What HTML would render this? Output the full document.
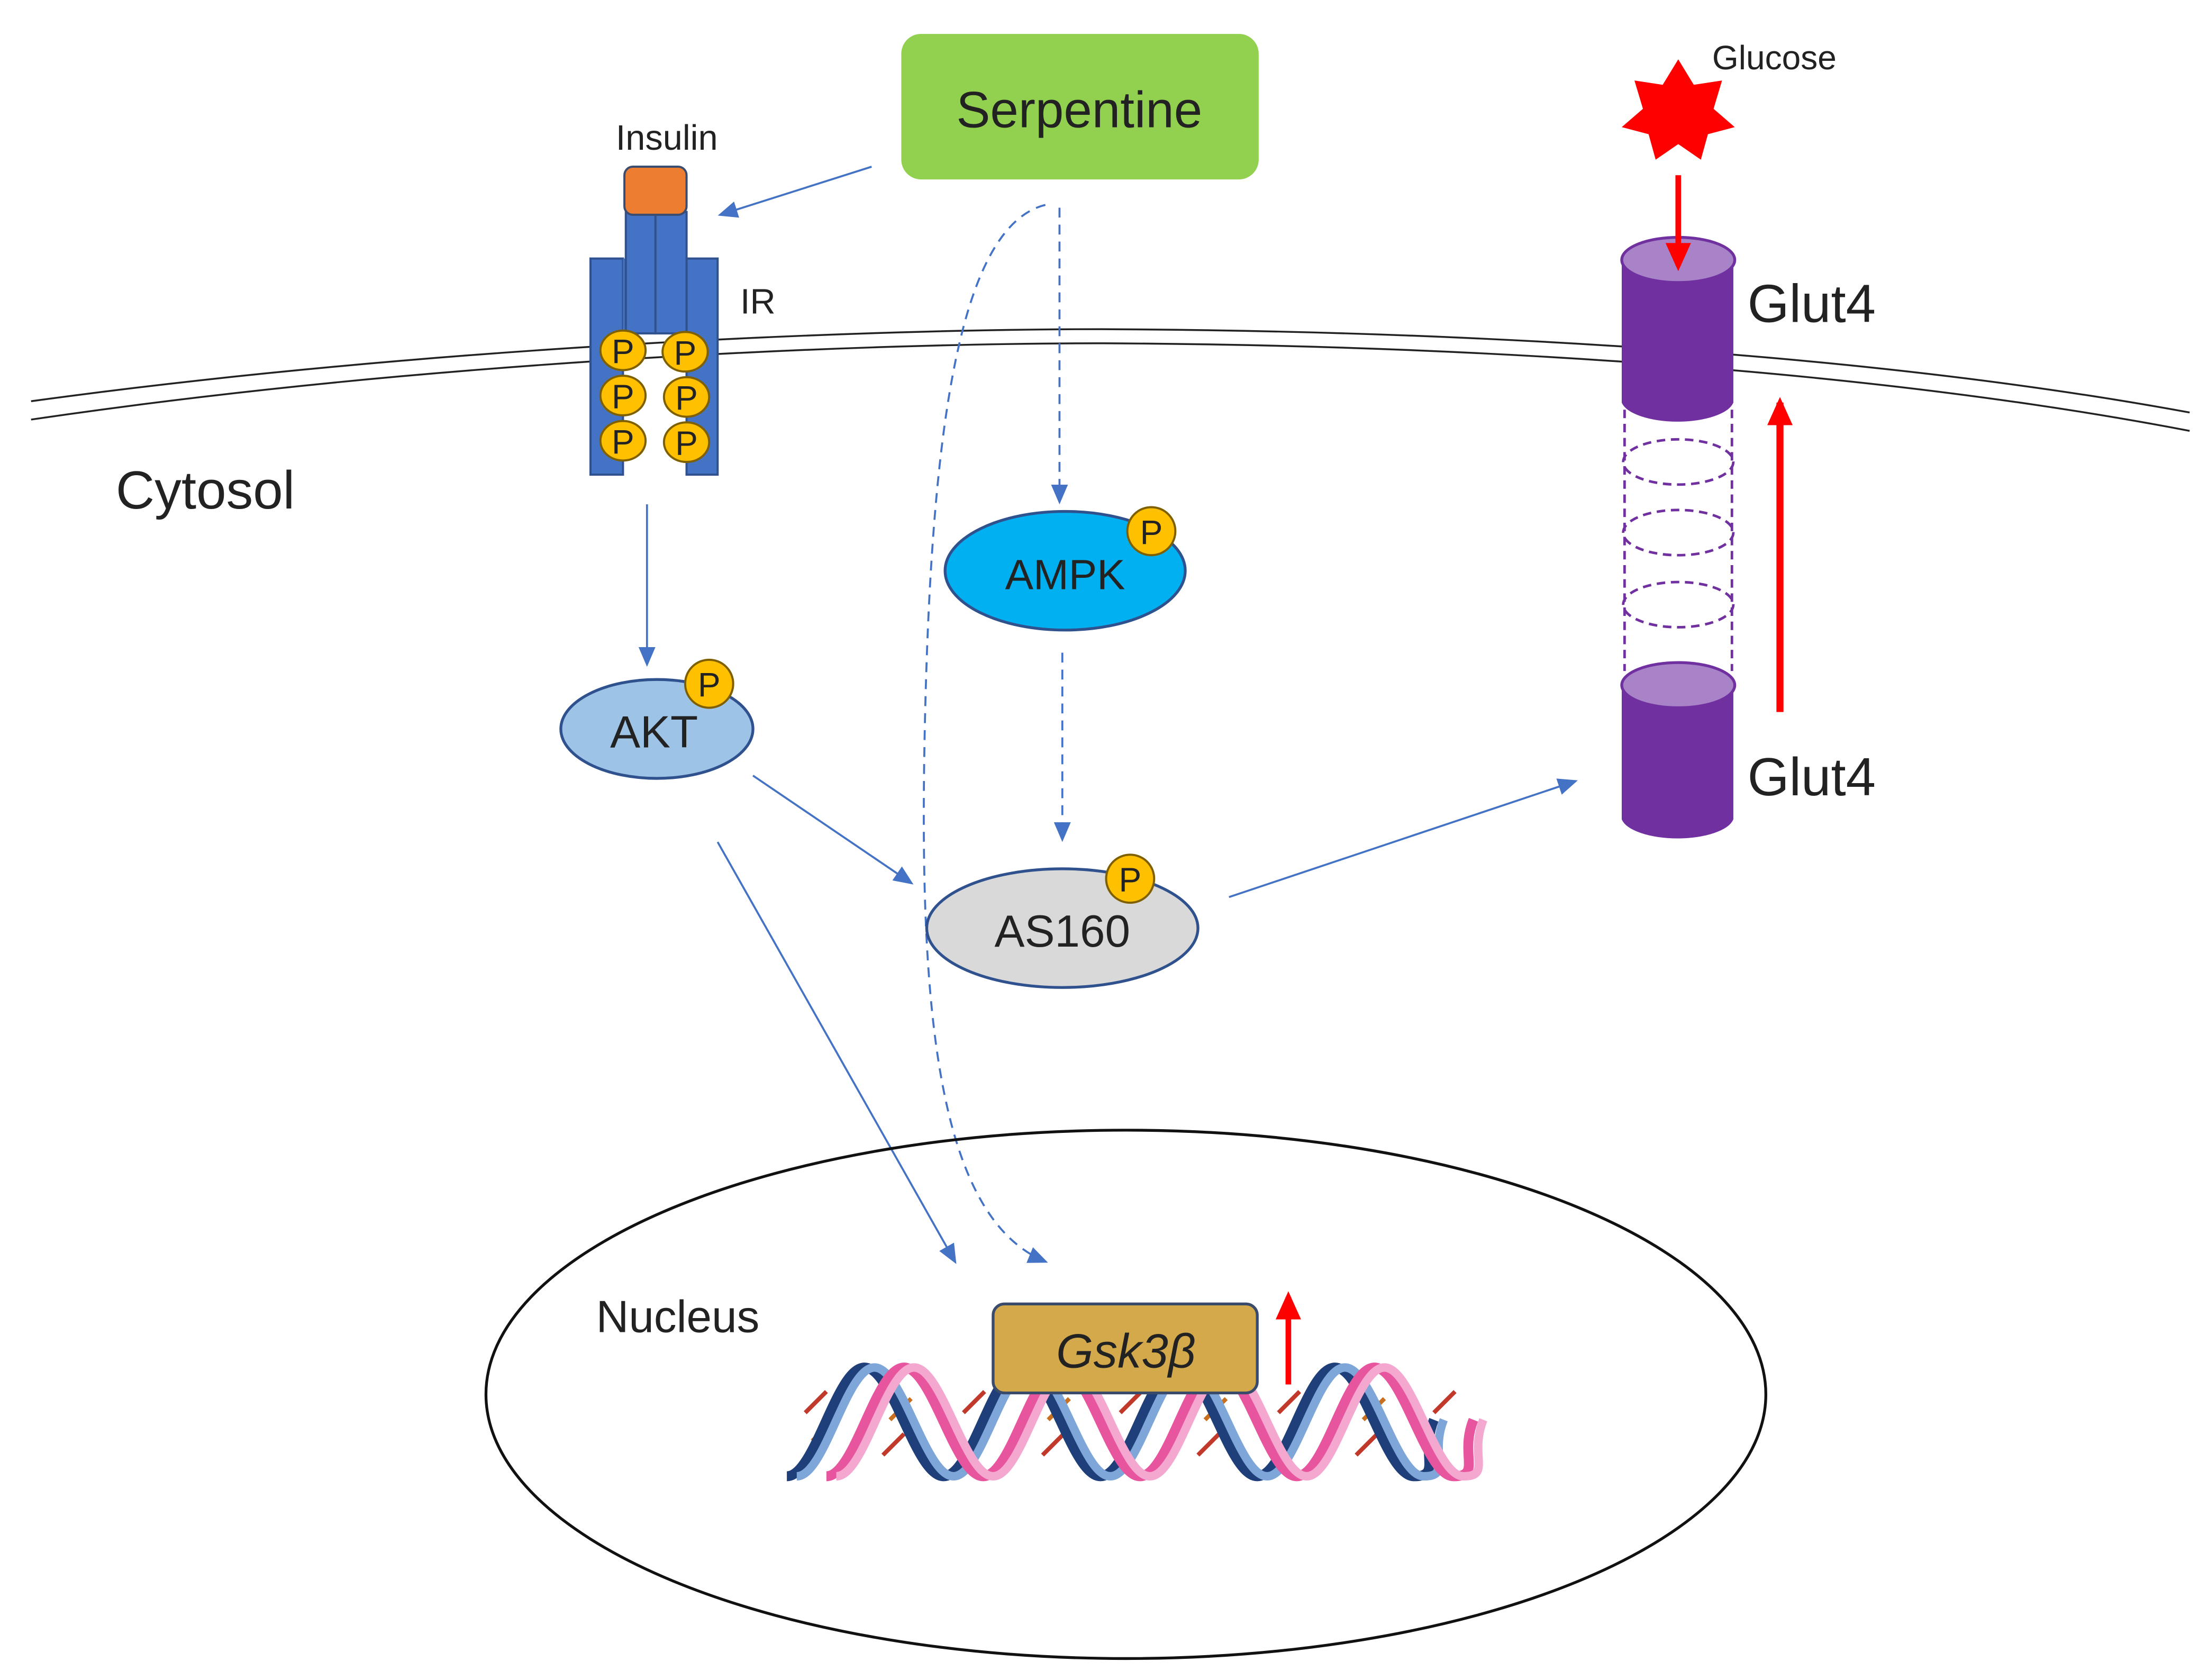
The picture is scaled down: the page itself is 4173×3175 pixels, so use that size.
<!DOCTYPE html>
<html><head><meta charset="utf-8">
<style>
html,body{margin:0;padding:0;background:#fff;}
svg{display:block;}
text{font-family:"Liberation Sans",sans-serif;}
</style></head>
<body>
<svg width="4173" height="3175" viewBox="0 0 1563 1189.2" preserveAspectRatio="none" xmlns="http://www.w3.org/2000/svg">
<defs>
<marker id="ab" markerWidth="14" markerHeight="12" refX="12" refY="6" orient="auto" markerUnits="userSpaceOnUse">
<path d="M0,0 L14,6 L0,12 Z" fill="#4472c4"/></marker>
<marker id="ar" markerWidth="20" markerHeight="18" refX="16" refY="9" orient="auto" markerUnits="userSpaceOnUse">
<path d="M0,0 L20,9 L0,18 Z" fill="#ff0000"/></marker>
<path id="strand" fill="none" d="M557,1045 C577,1045 592,968 612,968 S648,1045 668,1045 S703,968 723,968 S759,1045 779,1045 S814,968 834,968 S870,1045 890,1045 S925,968 945,968 S981,1045 1001,1045 S1005,1030 1015,1005"/>
</defs>

<path d="M22,284 C300,246 600,233 780,233 C1000,234 1300,246 1550,292" fill="none" stroke="#222" stroke-width="1.3"/>
<path d="M22,297 C300,256 600,243 780,243 C1000,244 1300,257 1550,305" fill="none" stroke="#222" stroke-width="1.3"/>

<rect x="638" y="24" width="253" height="103" rx="14" fill="#92d050"/>
<text x="764" y="90" font-size="36" text-anchor="middle" fill="#222">Serpentine</text>

<text x="472" y="106" font-size="25" text-anchor="middle" fill="#222">Insulin</text>
<rect x="418" y="183" width="23" height="153" fill="#4472c4" stroke="#2f528f" stroke-width="1.5"/>
<rect x="486" y="183" width="22" height="153" fill="#4472c4" stroke="#2f528f" stroke-width="1.5"/>
<rect x="441" y="183" width="45" height="53" fill="#4472c4"/>
<rect x="443" y="150" width="21" height="86" fill="#4472c4" stroke="#2f528f" stroke-width="1.5"/>
<rect x="464" y="150" width="22" height="86" fill="#4472c4" stroke="#2f528f" stroke-width="1.5"/>
<rect x="442" y="118" width="44" height="34" rx="6" fill="#ed7d31" stroke="#3a4d70" stroke-width="1.5"/>
<text x="524" y="222" font-size="25" fill="#222">IR</text>
<g fill="#ffc000" stroke="#7f6000" stroke-width="1.5">
<ellipse cx="441" cy="248" rx="16" ry="14"/><ellipse cx="485" cy="249" rx="16" ry="14"/>
<ellipse cx="441" cy="280" rx="16" ry="14"/><ellipse cx="486" cy="281" rx="16" ry="14"/>
<ellipse cx="441" cy="312" rx="16" ry="14"/><ellipse cx="486" cy="313" rx="16" ry="14"/>
</g>
<g font-size="24" text-anchor="middle" fill="#222">
<text x="441" y="257">P</text><text x="485" y="258">P</text>
<text x="441" y="289">P</text><text x="486" y="290">P</text>
<text x="441" y="321">P</text><text x="486" y="322">P</text>
</g>

<text x="82" y="360" font-size="38" fill="#222">Cytosol</text>

<g stroke="#4472c4" stroke-width="1.4" fill="none">
<line x1="617" y1="118" x2="510" y2="152" marker-end="url(#ab)"/>
<line x1="458" y1="357" x2="458" y2="470" marker-end="url(#ab)"/>
<line x1="533" y1="549" x2="645" y2="625" marker-end="url(#ab)"/>
<line x1="508" y1="596" x2="676" y2="893" marker-end="url(#ab)"/>
<line x1="870" y1="635" x2="1115" y2="553" marker-end="url(#ab)"/>
<line x1="750" y1="147" x2="750" y2="355" stroke-dasharray="7,5" marker-end="url(#ab)"/>
<line x1="752" y1="462" x2="752" y2="594" stroke-dasharray="7,5" marker-end="url(#ab)"/>
<path d="M740,145 C680,160 660,300 655,500 C650,700 660,860 740,893" stroke-dasharray="7,5" marker-end="url(#ab)"/>
</g>

<ellipse cx="754" cy="404" rx="85" ry="42" fill="#00b0f0" stroke="#2f528f" stroke-width="2"/>
<text x="754" y="417" font-size="30" text-anchor="middle" fill="#222">AMPK</text>
<circle cx="815" cy="376" r="17" fill="#ffc000" stroke="#7f6000" stroke-width="1.5"/>
<text x="815" y="385" font-size="24" text-anchor="middle" fill="#222">P</text>

<ellipse cx="465" cy="516" rx="68" ry="35" fill="#9dc3e6" stroke="#2f528f" stroke-width="2"/>
<text x="463" y="529" font-size="32" text-anchor="middle" fill="#222">AKT</text>
<circle cx="502" cy="484" r="17" fill="#ffc000" stroke="#7f6000" stroke-width="1.5"/>
<text x="502" y="493" font-size="24" text-anchor="middle" fill="#222">P</text>

<ellipse cx="752" cy="657" rx="96" ry="42" fill="#d9d9d9" stroke="#2f528f" stroke-width="2"/>
<text x="752" y="670" font-size="32" text-anchor="middle" fill="#222">AS160</text>
<circle cx="800" cy="622" r="17" fill="#ffc000" stroke="#7f6000" stroke-width="1.5"/>
<text x="800" y="631" font-size="24" text-anchor="middle" fill="#222">P</text>

<polygon points="1188,42 1199,60 1219,57 1213,77 1228,90 1209,95 1204,113 1188,102 1172,113 1167,95 1148,90 1163,77 1157,57 1177,60" fill="#ff0000"/>
<text x="1212" y="49" font-size="24" fill="#222">Glucose</text>

<path d="M1148,184 L1148,285 A40,16 0 0 0 1227,285 L1227,184 Z" fill="#7030a0"/>
<ellipse cx="1188" cy="184" rx="40" ry="16" fill="#a883c8" stroke="#7030a0" stroke-width="2"/>
<line x1="1188" y1="124" x2="1188" y2="188" stroke="#ff0000" stroke-width="4" marker-end="url(#ar)"/>
<g fill="none" stroke="#7030a0" stroke-width="1.8" stroke-dasharray="6,4">
<line x1="1150" y1="290" x2="1150" y2="475"/><line x1="1226" y1="290" x2="1226" y2="475"/>
<ellipse cx="1188" cy="327" rx="39" ry="16"/>
<ellipse cx="1188" cy="377" rx="39" ry="16"/>
<ellipse cx="1188" cy="428" rx="39" ry="16"/>
</g>
<path d="M1148,485 L1148,580 A40,16 0 0 0 1227,580 L1227,485 Z" fill="#7030a0"/>
<ellipse cx="1188" cy="485" rx="40" ry="16" fill="#a883c8" stroke="#7030a0" stroke-width="2"/>
<text x="1237" y="228" font-size="38" fill="#222">Glut4</text>
<text x="1237" y="563" font-size="38" fill="#222">Glut4</text>
<line x1="1260" y1="504" x2="1260" y2="285" stroke="#ff0000" stroke-width="5" marker-end="url(#ar)"/>

<ellipse cx="797" cy="987" rx="453" ry="187" fill="none" stroke="#111" stroke-width="2"/>
<text x="422" y="943" font-size="32" fill="#222">Nucleus</text>

<g stroke-width="3">
<g stroke="#c0392b">
<line x1="570" y1="1000" x2="585" y2="985"/><line x1="625" y1="1030" x2="640" y2="1015"/>
<line x1="682" y1="1000" x2="697" y2="985"/><line x1="738" y1="1030" x2="753" y2="1015"/>
<line x1="793" y1="1000" x2="808" y2="985"/><line x1="848" y1="1030" x2="863" y2="1015"/>
<line x1="905" y1="1000" x2="920" y2="985"/><line x1="960" y1="1030" x2="975" y2="1015"/>
<line x1="1015" y1="1000" x2="1030" y2="985"/>
</g>
<g stroke="#c87020">
<line x1="575" y1="1020" x2="590" y2="1005"/><line x1="630" y1="1005" x2="645" y2="990"/>
<line x1="687" y1="1020" x2="702" y2="1005"/><line x1="742" y1="1005" x2="757" y2="990"/>
<line x1="798" y1="1020" x2="813" y2="1005"/><line x1="853" y1="1005" x2="868" y2="990"/>
<line x1="910" y1="1020" x2="925" y2="1005"/><line x1="965" y1="1005" x2="980" y2="990"/>
</g>
</g>
<use href="#strand" stroke="#1f3f7a" stroke-width="7"/>
<use href="#strand" transform="translate(7,0)" stroke="#7ea6d8" stroke-width="6"/>
<use href="#strand" transform="translate(28,0)" stroke="#e8559f" stroke-width="7"/>
<use href="#strand" transform="translate(35,0)" stroke="#f5a8cf" stroke-width="6"/>

<rect x="703" y="923" width="187" height="63" rx="8" fill="#d4a94c" stroke="#3a4a6b" stroke-width="2"/>
<text x="797" y="968" font-size="34" font-style="italic" text-anchor="middle" fill="#222">Gsk3β</text>
<line x1="912" y1="980" x2="912" y2="918" stroke="#ff0000" stroke-width="4" marker-end="url(#ar)"/>
</svg>
</body></html>
